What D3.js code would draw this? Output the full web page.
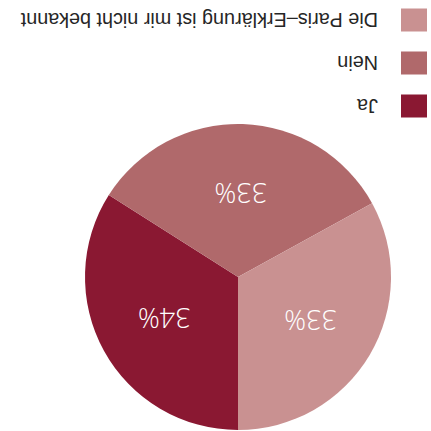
<!DOCTYPE html>
<html lang="de">
<head>
    <meta charset="UTF-8">
    <title>Paris-Erklärung</title>
    <script src="https://cdn.jsdelivr.net/npm/d3@7"></script>
    <style>
        body { margin: 0; background: #fff; }
    </style>
</head>
<body>
    <script>
        // categories and values (percent)
        var categories = ["Ja", "Nein", "Die Paris\u2013Erklärung ist mir nicht bekannt"];
        var values = [34, 33, 33];
        var colors = ["#8A1832", "#B0696B", "#C99191"];

        var width = 431, height = 431;
        var cx = 193, cy = 154, radius = 153;

        var svg = d3.select("body")
                    .append("svg")
                    .attr("width", width)
                    .attr("height", height);

        // the whole picture is shown upside down
        var root = svg.append("g")
                      .attr("transform", "rotate(180 " + width / 2 + " " + height / 2 + ")");

        var color = d3.scaleOrdinal().domain(categories).range(colors);

        var pie = d3.pie().sort(null).value(function(d) { return d.value; });
        var data = categories.map(function(c, i) { return { name: c, value: values[i] }; });

        var arc = d3.arc().innerRadius(0).outerRadius(radius);
        var labelArc = d3.arc().innerRadius(radius * 0.55).outerRadius(radius * 0.55);

        var g = root.append("g").attr("transform", "translate(" + cx + "," + cy + ")");

        g.selectAll("path")
            .data(pie(data))
            .enter()
            .append("path")
            .attr("d", arc)
            .attr("fill", function(d) { return color(d.data.name); });

        g.selectAll("text")
            .data(pie(data))
            .enter()
            .append("text")
            .attr("transform", function(d) { return "translate(" + labelArc.centroid(d) + ")"; })
            .attr("text-anchor", "middle")
            .attr("dy", "0.35em")
            .attr("fill", "#fff")
            .style("font-family", "'Open Sans', sans-serif")
            .style("font-weight", 300)
            .style("font-size", "27px")
            .text(function(d) { return d.data.value + "%"; });

        // legend, bottom left
        var legendY = d3.scalePoint().domain(categories).range([325, 411]);

        var legend = root.append("g")
                         .selectAll("g")
                         .data(categories)
                         .enter()
                         .append("g")
                         .attr("transform", function(d) { return "translate(4," + legendY(d) + ")"; });

        legend.append("rect")
            .attr("x", 0)
            .attr("y", -11.5)
            .attr("width", 26)
            .attr("height", 23)
            .attr("fill", function(d) { return color(d); });

        legend.append("text")
            .attr("x", 49)
            .attr("y", 7)
            .attr("fill", "#262626")
            .style("font-family", "'Liberation Sans', Arial, sans-serif")
            .style("font-size", "19.8px")
            .text(function(d) { return d; });
    </script>
</body>
</html>
